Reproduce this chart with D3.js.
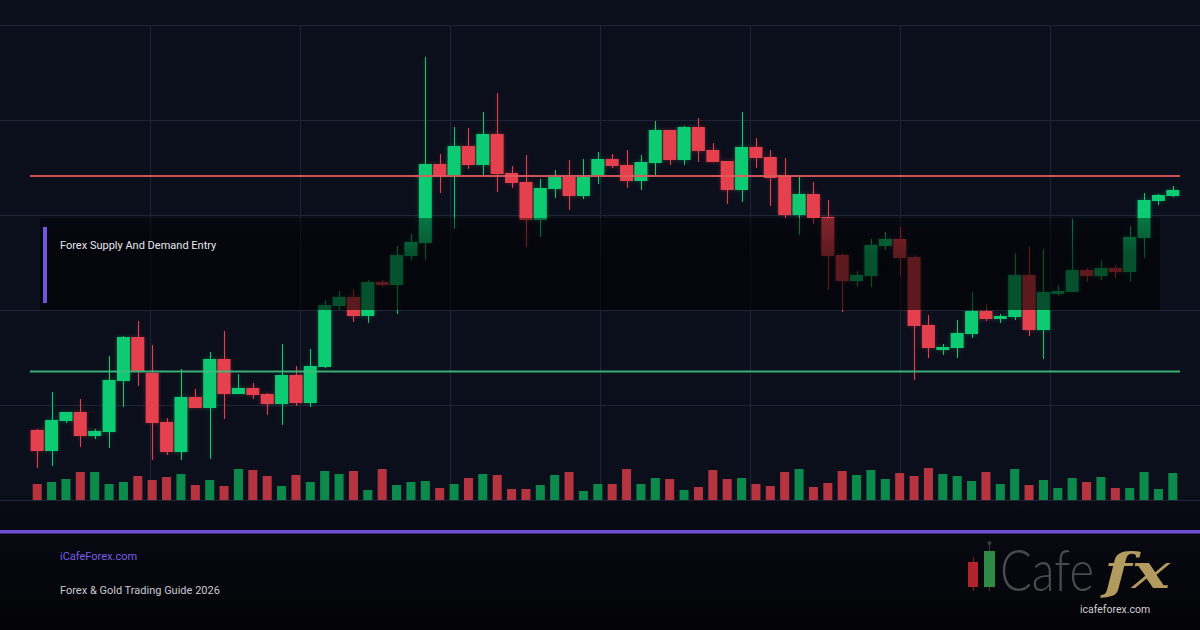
<!DOCTYPE html>
<html>
<head>
<meta charset="utf-8">
<script src="https://cdnjs.cloudflare.com/ajax/libs/d3/7.8.5/d3.min.js"></script>
<style>
    html, body { margin: 0; padding: 0; background: #0b0e1b; overflow: hidden; }
    svg { display: block; }
</style>
</head>
<body>
<div class="container"></div>
<script>
// candle data (open / high / low / close, volume)
var opens = [2070,2049,2079,2088,2064,2068,2119,2163,2127,2078,2048,2103,2092,2141,2106,2112,2106,2096,2125,2097,
             2133,2194,2203,2184,2218,2215,2244,2257,2336,2325,2354,2335,2366,2327,2318,2280,2311,2323,2304,2325,
             2341,2335,2319,2337,2370,2340,2373,2350,2339,2310,2353,2343,2324,2285,2306,2283,2245,2219,2224,2254,
             2261,2243,2175,2150,2152,2166,2189,2181,2183,2225,2170,2206,2208,2230,2224,2232,2228,2262,2299,2304];
var highs = [2071,2108,2088,2101,2071,2144,2164,2179,2155,2082,2131,2111,2148,2169,2126,2117,2107,2156,2134,2151,
             2200,2209,2211,2220,2220,2254,2266,2443,2346,2373,2372,2388,2407,2334,2345,2321,2330,2340,2341,2348,
             2346,2350,2345,2379,2370,2374,2382,2357,2339,2388,2362,2350,2342,2323,2318,2300,2246,2229,2261,2268,
             2273,2245,2185,2156,2180,2208,2196,2186,2247,2253,2251,2215,2281,2232,2240,2235,2274,2307,2306,2314];
var lows = [2032,2034,2077,2053,2061,2052,2093,2114,2040,2045,2040,2092,2041,2081,2106,2101,2085,2075,2094,2093,
            2132,2190,2178,2177,2213,2186,2240,2240,2307,2271,2331,2325,2308,2312,2253,2263,2302,2290,2301,2316,
            2332,2312,2310,2325,2335,2335,2338,2338,2296,2298,2332,2294,2282,2265,2276,2210,2188,2213,2213,2250,
            2223,2120,2142,2145,2142,2162,2179,2177,2180,2164,2141,2204,2208,2218,2220,2222,2218,2242,2295,2303];
var closes = [2049,2080,2088,2064,2069,2120,2163,2129,2077,2048,2103,2092,2141,2106,2112,2105,2096,2125,2097,2134,
              2195,2203,2184,2218,2215,2245,2258,2336,2324,2354,2335,2366,2326,2317,2280,2312,2323,2304,2323,2341,
              2334,2319,2338,2370,2340,2373,2349,2338,2310,2353,2342,2322,2285,2306,2282,2244,2219,2225,2255,2261,
              2242,2174,2152,2153,2167,2189,2181,2184,2225,2170,2208,2209,2230,2224,2232,2228,2263,2300,2305,2310];
var volumes = [16,18,21,28,28,16,18,24,20,23,26,15,20,14,31,30,24,14,25,18,
               29,26,29,10,31,15,18,19,12,16,22,26,25,11,11,15,25,28,9,16,
               16,31,16,22,21,10,13,30,21,22,16,14,28,31,13,17,29,25,30,21,
               27,24,32,26,24,19,28,16,31,15,20,12,22,18,23,12,12,28,11,27];

var resistance = 2324;
var support = 2128.5;
var priceTicks = [2000, 2095, 2190, 2285, 2380, 2475];
var gridCols = [1, 2, 3, 4, 5, 6, 7];

var zoneTop = 2282;
var zoneBottom = 2190;
var zoneLabel = 'Forex Supply And Demand Entry';
var siteName = 'iCafeForex.com';
var guideTitle = 'Forex & Gold Trading Guide 2026';

const WIDTH = 1200;
const HEIGHT = 630;
const LEFT = 30;
const RIGHT = 1180;
const UP = '#0fcb72';
const DOWN = '#e5404e';
const UP_VOL = '#0b8a4c';
const DOWN_VOL = '#b5343f';

var candles = d3.range(opens.length).map(function(i){
    return {i: i, o: opens[i], h: highs[i], l: lows[i], c: closes[i], v: volumes[i]};
});

var xScale = d3.scaleBand().domain(d3.range(candles.length))
    .range([LEFT, RIGHT]).paddingInner(0.1).paddingOuter(0.05);
var yScale = d3.scaleLinear().domain([2000, 2475]).range([500, 25]);
var volScale = d3.scaleLinear().domain([0, 40]).range([500, 460]);
var colScale = d3.scaleLinear().domain([0, 8]).range([0, WIDTH]);

var svg = d3.select('.container').append('svg')
    .attr('width', WIDTH)
    .attr('height', HEIGHT);

var defs = svg.append('defs');

var zoneGrad = defs.append('linearGradient').attr('id', 'zoneGrad')
    .attr('x1', 0).attr('y1', 0).attr('x2', 0).attr('y2', 1);
zoneGrad.append('stop').attr('offset', '0%').attr('stop-color', '#000').attr('stop-opacity', 0.42);
zoneGrad.append('stop').attr('offset', '40%').attr('stop-color', '#000').attr('stop-opacity', 0.6);
zoneGrad.append('stop').attr('offset', '100%').attr('stop-color', '#000').attr('stop-opacity', 0.6);

var footGrad = defs.append('linearGradient').attr('id', 'footGrad')
    .attr('x1', 0).attr('y1', 0).attr('x2', 0).attr('y2', 1);
footGrad.append('stop').attr('offset', '0%').attr('stop-color', '#090b15');
footGrad.append('stop').attr('offset', '100%').attr('stop-color', '#040407');

var glow = defs.append('filter').attr('id', 'glow')
    .attr('x', '-50%').attr('y', '-20%').attr('width', '200%').attr('height', '140%');
glow.append('feGaussianBlur').attr('in', 'SourceGraphic').attr('stdDeviation', 2).attr('result', 'b');
glow.append('feComponentTransfer').attr('in', 'b').attr('result', 'bf')
    .append('feFuncA').attr('type', 'linear').attr('slope', 0.35);
var merge = glow.append('feMerge');
merge.append('feMergeNode').attr('in', 'bf');
merge.append('feMergeNode').attr('in', 'SourceGraphic');

// background
svg.append('rect').attr('width', WIDTH).attr('height', HEIGHT).attr('fill', '#0b0e1b');
svg.append('rect').attr('y', 500).attr('width', WIDTH).attr('height', 130).attr('fill', 'url(#footGrad)');

// grid
var grid = svg.append('g').attr('class', 'grid');
grid.selectAll('line.h').data(priceTicks)
    .enter().append('line')
    .attr('x1', 0).attr('x2', WIDTH)
    .attr('y1', function(d){return yScale(d) + 0.5;})
    .attr('y2', function(d){return yScale(d) + 0.5;})
    .attr('stroke', '#1f2436').attr('stroke-width', 1);
grid.selectAll('line.v').data(gridCols)
    .enter().append('line')
    .attr('x1', function(d){return colScale(d) + 0.5;})
    .attr('x2', function(d){return colScale(d) + 0.5;})
    .attr('y1', yScale(2475)).attr('y2', yScale(2000))
    .attr('stroke', '#1f2436').attr('stroke-width', 1);

// volume
svg.append('g').selectAll('rect').data(candles)
    .enter().append('rect')
    .attr('x', function(d){return xScale(d.i) + xScale.bandwidth() * 0.15;})
    .attr('width', xScale.bandwidth() * 0.7)
    .attr('y', function(d){return volScale(d.v);})
    .attr('height', function(d){return volScale(0) - volScale(d.v);})
    .attr('fill', function(d){return d.c >= d.o ? UP_VOL : DOWN_VOL;});

// candles
var chart = svg.append('g').attr('class', 'candles').attr('filter', 'url(#glow)');

chart.selectAll('line').data(candles)
    .enter().append('line')
    .attr('x1', function(d){return Math.round(xScale(d.i) + xScale.bandwidth() / 2) + 0.5;})
    .attr('x2', function(d){return Math.round(xScale(d.i) + xScale.bandwidth() / 2) + 0.5;})
    .attr('y1', function(d){return yScale(d.h);})
    .attr('y2', function(d){return yScale(d.l);})
    .attr('stroke', function(d){return d.c >= d.o ? UP : DOWN;})
    .attr('stroke-width', 1);

chart.selectAll('rect').data(candles)
    .enter().append('rect')
    .attr('x', function(d){return xScale(d.i);})
    .attr('width', xScale.bandwidth())
    .attr('y', function(d){return yScale(Math.max(d.o, d.c));})
    .attr('height', function(d){return Math.max(1.5, Math.abs(yScale(d.o) - yScale(d.c)));})
    .attr('fill', function(d){return d.c >= d.o ? UP : DOWN;});

// supply / demand levels
svg.append('line')
    .attr('x1', LEFT).attr('x2', RIGHT)
    .attr('y1', yScale(resistance)).attr('y2', yScale(resistance))
    .attr('stroke', '#e35a5e').attr('stroke-width', 2.2).attr('opacity', 0.9);
svg.append('line')
    .attr('x1', LEFT).attr('x2', RIGHT)
    .attr('y1', yScale(support)).attr('y2', yScale(support))
    .attr('stroke', '#3fbf80').attr('stroke-width', 2.2).attr('opacity', 0.9);

// entry zone panel
svg.append('rect')
    .attr('x', 40).attr('width', 1120)
    .attr('y', yScale(zoneTop)).attr('height', yScale(zoneBottom) - yScale(zoneTop))
    .attr('fill', 'url(#zoneGrad)');
svg.append('rect')
    .attr('x', 43).attr('width', 4)
    .attr('y', yScale(zoneTop) + 9).attr('height', yScale(zoneBottom) - yScale(zoneTop) - 16)
    .attr('fill', '#7354e0');
svg.append('text')
    .attr('x', 60).attr('y', 249)
    .attr('font-family', 'Roboto, "Noto Sans", sans-serif')
    .attr('font-size', 11)
    .attr('fill', '#e6e6ee')
    .text(zoneLabel);

// footer
svg.append('rect').attr('x', 0).attr('y', 530).attr('width', WIDTH).attr('height', 3.5).attr('fill', '#6f4fd8');

svg.append('text')
    .attr('x', 60).attr('y', 560)
    .attr('font-family', 'Roboto, "Noto Sans", sans-serif')
    .attr('font-size', 11)
    .attr('fill', '#7b5ce8')
    .text(siteName);
svg.append('text')
    .attr('x', 60).attr('y', 594)
    .attr('font-family', 'Roboto, "Noto Sans", sans-serif')
    .attr('font-size', 11)
    .attr('fill', '#c9c9d2')
    .text(guideTitle);

// logo
var logo = svg.append('g').attr('class', 'logo');
logo.append('line').attr('x1', 973.5).attr('x2', 973.5).attr('y1', 557).attr('y2', 591)
    .attr('stroke', '#8a1d22').attr('stroke-width', 1);
logo.append('rect').attr('x', 968).attr('y', 562).attr('width', 10).attr('height', 25).attr('fill', '#b3232b');
logo.append('line').attr('x1', 989.5).attr('x2', 989.5).attr('y1', 544).attr('y2', 591)
    .attr('stroke', '#3a3a3a').attr('stroke-width', 1);
logo.append('circle').attr('cx', 989.5).attr('cy', 543).attr('r', 2).attr('fill', '#3a3a3a');
logo.append('rect').attr('x', 984).attr('y', 551).attr('width', 11).attr('height', 36).attr('fill', '#2f8a46');
logo.append('text')
    .attr('x', 1000).attr('y', 591)
    .attr('font-family', 'Lato, "Open Sans", sans-serif')
    .attr('font-weight', 300)
    .attr('font-size', 58)
    .attr('textLength', 94).attr('lengthAdjust', 'spacingAndGlyphs')
    .attr('fill', '#4b4b4f')
    .text('Cafe');
logo.append('text')
    .attr('x', 1104).attr('y', 588)
    .attr('font-family', '"DejaVu Serif", serif')
    .attr('font-style', 'italic').attr('font-weight', 'bold')
    .attr('font-size', 48)
    .attr('textLength', 66).attr('lengthAdjust', 'spacingAndGlyphs')
    .attr('fill', '#b39a5f')
    .text('fx');
logo.append('text')
    .attr('x', 1080).attr('y', 613)
    .attr('font-family', 'Roboto, "Noto Sans", sans-serif')
    .attr('font-size', 10.5)
    .attr('fill', '#cfcfd4')
    .text('icafeforex.com');
</script>
</body>
</html>
